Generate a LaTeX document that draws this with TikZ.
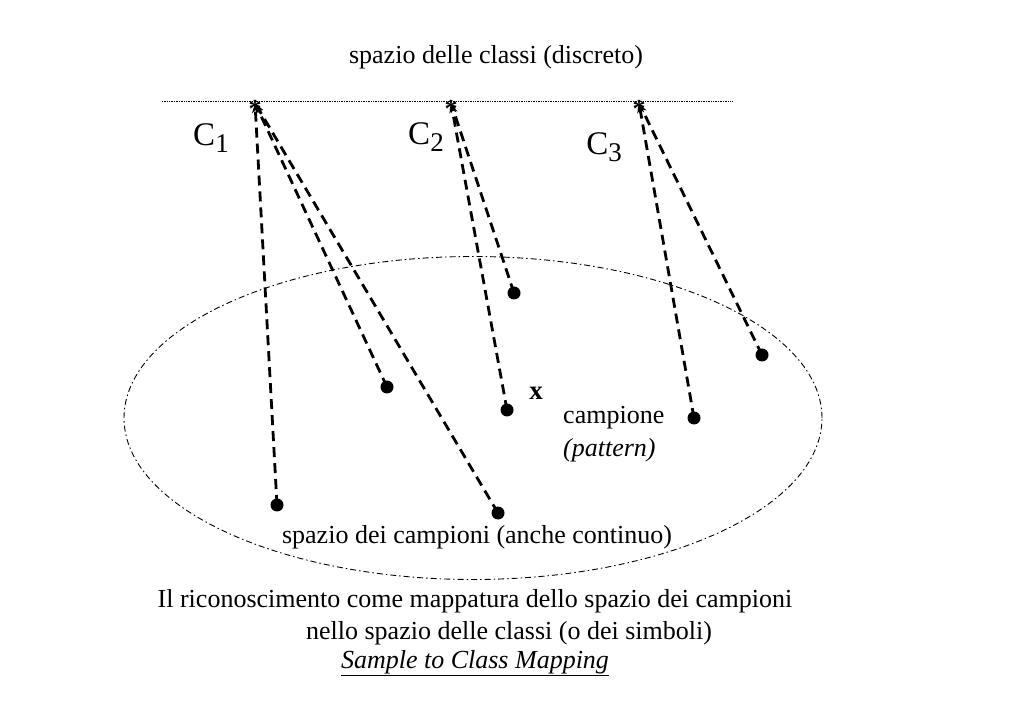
\documentclass[tikz,border=0pt]{standalone}
\usepackage{fontspec}
\setmainfont{Liberation Serif}
\usetikzlibrary{arrows.meta,shapes.geometric}
\newcommand{\clsub}[1]{\raisebox{-7pt}{\fontsize{27}{30}\selectfont #1}}
\begin{document}
\begin{tikzpicture}[x=1pt,y=-1pt,
  txt/.style={inner sep=0pt,font=\fontsize{26}{30}\selectfont},
  cls/.style={inner sep=0pt,font=\fontsize{33}{36}\selectfont},
  dot/.style={circle,fill=black,inner sep=0pt,minimum size=13pt},
  star/.style={inner sep=0pt,font=\fontsize{26}{26}\selectfont\bfseries},
  map/.style={line width=2.8pt,dash pattern=on 10pt off 6pt,-{Stealth[length=9pt,width=7pt]},shorten >=1pt}]
\useasboundingbox (0,0) rectangle (1023,708);
% class axis
\coordinate (axl) at (162,101);
\coordinate (axr) at (733,101);
\draw[densely dotted,line width=0.7pt] (axl) -- (axr);
\node[txt] (title) at (496,57) {spazio delle classi (discreto)};
% class points
\coordinate (s1) at (255,103);
\coordinate (s2) at (451,103);
\coordinate (s3) at (639,103);
\node[star] (st1) at (255,109) {*};
\node[star] (st2) at (451,109) {*};
\node[star] (st3) at (639,109) {*};
\node[cls] (c1) at (211,138) {C\clsub{1}};
\node[cls] (c2) at (426,137) {C\clsub{2}};
\node[cls] (c3) at (604,147) {C\clsub{3}};
% sample space
\node[draw,dash pattern=on 6pt off 3pt on 1.5pt off 3pt,line width=0.9pt,ellipse,minimum width=698pt,minimum height=323pt,inner sep=0pt] (space) at (473,418) {};
% samples
\node[dot] (p1) at (277,505) {};
\node[dot] (p2) at (387,387) {};
\node[dot] (p3) at (498,513) {};
\node[dot] (p4) at (514,293) {};
\node[dot] (p5) at (507,410) {};
\node[dot] (p6) at (694,418) {};
\node[dot] (p7) at (762,355) {};
% mappings
\draw[map] (p1.center) -- (s1);
\draw[map] (p2.center) -- (s1);
\draw[map] (p3.center) -- (s1);
\draw[map] (p4.center) -- (s2);
\draw[map] (p5.center) -- (s2);
\draw[map] (p6.center) -- (s3);
\draw[map] (p7.center) -- (s3);
% labels
\node[txt,font=\fontsize{27}{30}\selectfont\bfseries] (x) at (536,393) {x};
\node[txt,anchor=west] (camp) at (563,418) {campione};
\node[txt,anchor=west] (patt) at (563,450) {\itshape (pattern)};
\node[txt] (sdc) at (477,537) {spazio dei campioni (anche continuo)};
\node[txt] (l1) at (475,601) {Il riconoscimento come mappatura dello spazio dei campioni};
\node[txt] (l2) at (509,633) {nello spazio delle classi (o dei simboli)};
\node[txt] (l3) at (475,663) {\itshape\underline{Sample to Class Mapping}};
\end{tikzpicture}
\end{document}
